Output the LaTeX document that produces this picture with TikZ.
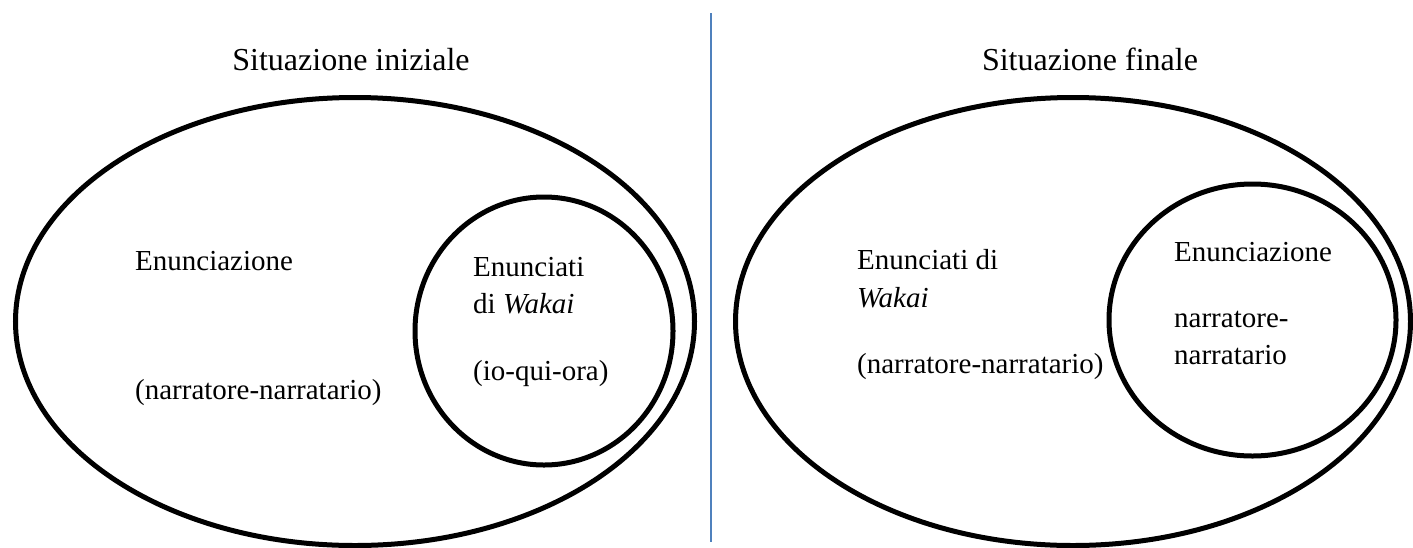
\documentclass[tikz,border=0pt]{standalone}
\usepackage{fontspec}
\setmainfont{Liberation Serif}
\usetikzlibrary{shapes.geometric}
\definecolor{sepblue}{HTML}{4F81BD}
\tikzset{ring/.style={draw,ellipse,line width=5pt,inner sep=0pt},
         body/.style={anchor=base west,inner sep=0pt,font=\fontsize{29}{37}\selectfont},
         title/.style={anchor=base,inner sep=0pt,font=\fontsize{32}{38}\selectfont},
        }

\begin{document}
\begin{tikzpicture}[x=1pt,y=-1pt]
        \useasboundingbox(0,0)rectangle(1413,547);

        % situazione iniziale
        \node[title](tIni)at(351,70){Situazione iniziale};
        \node[ring,minimum width=679pt,minimum height=448pt](outIni)at(355,321.5){};
        \node[ring,minimum width=258pt,minimum height=268pt](inIni)at(544,331){};
        \node[body](enIni)at(135,270){Enunciazione};
        \node[body](nnIni)at(135,399){(narratore-narratario)};
        \node[body](etIni)at(473,276){Enunciati};
        \node[body](wkIni)at(473,313){di \textit{Wakai}};
        \node[body](ioIni)at(473,380){(io-qui-ora)};

        % separatore
        \coordinate(sepTop)at(711,13);
        \coordinate(sepBot)at(711,542);
        \draw[sepblue,line width=2pt](sepTop)--(sepBot);

        % situazione finale
        \node[title](tFin)at(1090,70){Situazione finale};
        \node[ring,minimum width=675pt,minimum height=448pt](outFin)at(1073,321.5){};
        \node[ring,minimum width=287pt,minimum height=272pt](inFin)at(1252.5,320){};
        \node[body](etFin)at(857,269){Enunciati di};
        \node[body](wkFin)at(857,307){\textit{Wakai}};
        \node[body](nnFin)at(857,373){(narratore-narratario)};
        \node[body](enFin)at(1174,261){Enunciazione};
        \node[body](n1Fin)at(1174,327){narratore-};
        \node[body](n2Fin)at(1174,364){narratario};
\end{tikzpicture}
\end{document}
